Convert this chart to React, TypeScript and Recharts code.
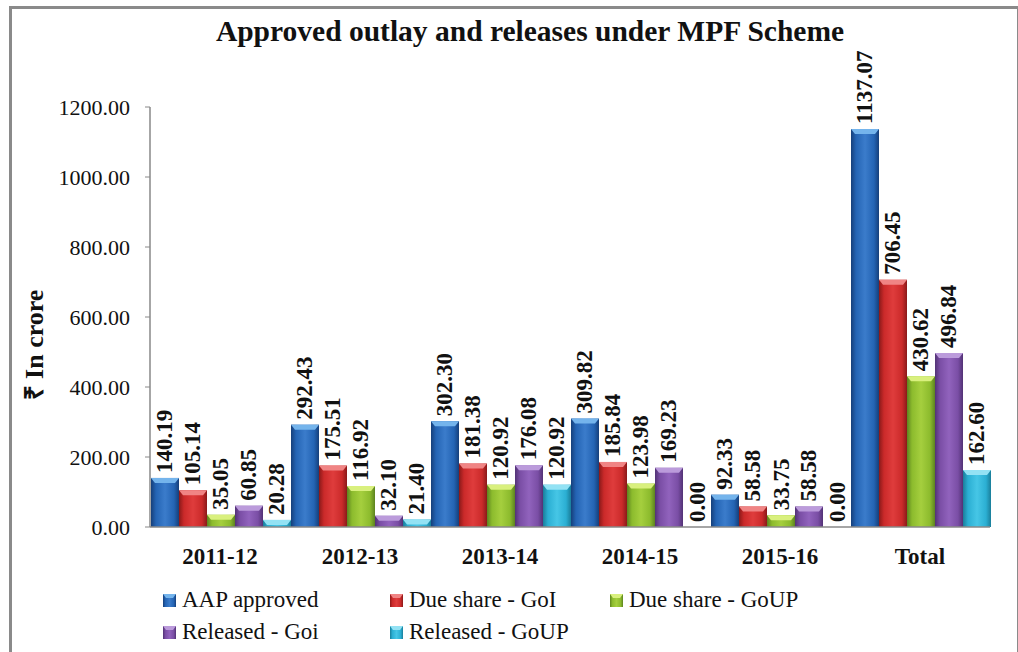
import { BarChart, Bar, XAxis, YAxis, LabelList, Label } from "recharts";

const categories = ["2011-12", "2012-13", "2013-14", "2014-15", "2015-16", "Total"];
const aapApproved = [140.19, 292.43, 302.3, 309.82, 92.33, 1137.07];
const dueShareGoI = [105.14, 175.51, 181.38, 185.84, 58.58, 706.45];
const dueShareGoUP = [35.05, 116.92, 120.92, 123.98, 33.75, 430.62];
const releasedGoi = [60.85, 32.1, 176.08, 169.23, 58.58, 496.84];
const releasedGoUP = [20.28, 21.4, 120.92, 0.0, 0.0, 162.6];
const yTicks = [0, 200, 400, 600, 800, 1000, 1200];

const FONT = "'Liberation Serif', 'Times New Roman', serif";

const series = [
  { key: "aap", name: "AAP approved", values: aapApproved, base: "#2464b4", dark: "#163f7a", light: "#3b7ccb", bevel: "#74b4ec" },
  { key: "dueGoI", name: "Due share - GoI", values: dueShareGoI, base: "#cb2a2a", dark: "#8a1919", light: "#df3c3c", bevel: "#f08484" },
  { key: "dueGoUP", name: "Due share - GoUP", values: dueShareGoUP, base: "#8cbb2d", dark: "#5d8320", light: "#a5cf3e", bevel: "#d9f07e" },
  { key: "relGoi", name: "Released - Goi", values: releasedGoi, base: "#7a4ea5", dark: "#523275", light: "#9163bd", bevel: "#bb9bdb" },
  { key: "relGoUP", name: "Released - GoUP", values: releasedGoUP, base: "#2bafd3", dark: "#1a7e9a", light: "#46c6e6", bevel: "#93e2f4" },
];

const data = categories.map((c, i) => {
  const row: Record<string, string | number> = { cat: c };
  series.forEach((s) => { row[s.key] = s.values[i]; });
  return row;
});

/* eslint-disable @typescript-eslint/no-explicit-any */
function makeShape(idx: number) {
  const s = series[idx];
  return (props: any) => {
    const { x, y, width, height } = props;
    if (!height || height <= 0) return <g />;
    const b = Math.min(5, height);
    return (
      <g>
        <rect x={x} y={y} width={width} height={height} fill={`url(#grad-${s.key})`} />
        <polygon
          points={`${x},${y} ${x + width},${y} ${x + width - 4},${y + b} ${x + 4},${y + b}`}
          fill={s.bevel}
        />
      </g>
    );
  };
}

function ValueLabel(props: any) {
  const { x, y, width, value } = props;
  if (value === undefined || value === null) return null;
  const cx = x + width / 2;
  const ty = y - 5;
  return (
    <text
      x={cx}
      y={ty}
      transform={`rotate(-90 ${cx} ${ty})`}
      textAnchor="start"
      dominantBaseline="central"
      fontFamily={FONT}
      fontWeight={700}
      fontSize={23}
      fill="#111"
    >
      {Number(value).toFixed(2)}
    </text>
  );
}

function YTitle() {
  return (
    <text
      x={34}
      y={345}
      transform="rotate(-90 34 345)"
      textAnchor="middle"
      dominantBaseline="central"
      fontFamily={FONT}
      fontWeight={700}
      fontSize={26}
      fill="#111"
    >
      ₹ In crore
    </text>
  );
}
/* eslint-enable @typescript-eslint/no-explicit-any */

function Marker({ s }: { s: (typeof series)[number] }) {
  return (
    <svg width={13} height={13} style={{ display: "block" }}>
      <rect x={0} y={0} width={13} height={13} fill={`url(#grad-${s.key})`} />
      <polygon points="0,0 13,0 10,4 3,4" fill={s.bevel} />
    </svg>
  );
}

const legendCols = [163, 390, 610];

export default function App() {
  return (
    <div style={{ position: "fixed", left: 0, top: 0, width: 1018, height: 652, background: "#fff", overflow: "hidden" }}>
      <svg width={0} height={0} style={{ position: "absolute" }}>
        <defs>
          {series.map((s) => (
            <linearGradient key={s.key} id={`grad-${s.key}`} x1="0" y1="0" x2="1" y2="0">
              <stop offset="0%" stopColor={s.dark} />
              <stop offset="18%" stopColor={s.base} />
              <stop offset="50%" stopColor={s.light} />
              <stop offset="82%" stopColor={s.base} />
              <stop offset="100%" stopColor={s.dark} />
            </linearGradient>
          ))}
        </defs>
      </svg>
      <div
        style={{
          position: "absolute", left: 9, top: 6, width: 1005, height: 700,
          borderTop: "3px solid #8a8a8a", borderLeft: "3px solid #8a8a8a", borderRight: "3px solid #8a8a8a",
        }}
      />
      <div
        style={{
          position: "absolute", left: 0, top: 14, width: 1060, textAlign: "center",
          fontFamily: FONT, fontWeight: 700, fontSize: 29.5, color: "#111", lineHeight: "34px",
        }}
      >
        Approved outlay and releases under MPF Scheme
      </div>
      <div style={{ position: "absolute", left: 0, top: 0 }}>
        <BarChart
          width={1018}
          height={652}
          data={data}
          margin={{ top: 107, right: 28, left: 0, bottom: 95 }}
          barCategoryGap={1}
          barGap={0}
        >
          <XAxis
            dataKey="cat"
            height={30}
            axisLine={{ stroke: "#888", strokeWidth: 1.5 }}
            tickLine={false}
            tickSize={0}
            tickMargin={21}
            tick={{ fontFamily: FONT, fontWeight: 700, fontSize: 23, fill: "#111" }}
            interval={0}
          />
          <YAxis
            width={150}
            domain={[0, 1200]}
            ticks={yTicks}
            interval={0}
            tickFormatter={(v: number) => v.toFixed(2)}
            axisLine={{ stroke: "#888", strokeWidth: 1.5 }}
            tickLine={{ stroke: "#888" }}
            tickSize={5}
            tickMargin={15}
            tick={{ fontFamily: FONT, fontSize: 22, fill: "#111" }}
          >
            <Label content={<YTitle />} />
          </YAxis>
          {series.map((s, i) => (
            <Bar key={s.key} dataKey={s.key} name={s.name} fill={s.base} shape={makeShape(i)} isAnimationActive={false}>
              <LabelList dataKey={s.key} content={<ValueLabel />} />
            </Bar>
          ))}
        </BarChart>
      </div>
      {series.map((s, i) => (
        <div
          key={s.key}
          style={{
            position: "absolute",
            left: legendCols[i % 3],
            top: i < 3 ? 586 : 618,
            display: "flex",
            alignItems: "center",
            gap: 6,
            fontFamily: FONT,
            fontSize: 23,
            color: "#111",
            lineHeight: "28px",
            whiteSpace: "nowrap",
          }}
        >
          <Marker s={s} />
          <span>{s.name}</span>
        </div>
      ))}
    </div>
  );
}
